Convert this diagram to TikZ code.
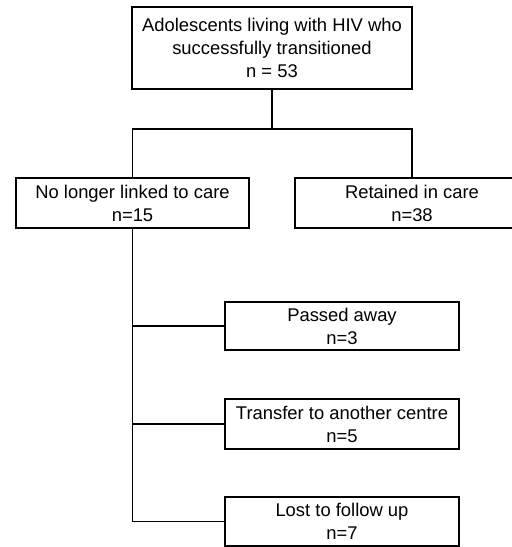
\documentclass[tikz,border=0pt]{standalone}
\usepackage{fontspec}
\setmainfont{Liberation Sans}
\usepackage{tikz}
\usetikzlibrary{positioning}
\tikzset{box/.style = {draw, line width = 1.8, align = center, inner sep = 0,
    font = \fontsize{18.4}{23}\selectfont}}
\tikzset{link/.style = {line width = 1.8}}

\begin{document}
\begin{tikzpicture}[x = 1pt, y = -1pt]
      \useasboundingbox (0, 0) rectangle (512, 547);
      \clip (0, 0) rectangle (512, 547);

      \node [box, minimum width = 280, minimum height = 82] (total) at (272, 48)
        {Adolescents living with HIV who\\successfully transitioned\\n = 53};
      \node [box, minimum width = 233, minimum height = 50] (notlinked) at (132.5, 203)
        {No longer linked to care\\n=15};
      \node [box, minimum width = 234, minimum height = 50] (retained) at (412, 203)
        {Retained in care\\n=38};

      \node [box, minimum width = 234, minimum height = 48] (died) at (342, 326)
        {Passed away\\n=3};
      \node [box, minimum width = 234, minimum height = 50] (transfer) at (342, 424)
        {Transfer to another centre\\n=5};
      \node [box, minimum width = 234, minimum height = 49] (lost) at (342, 521.5)
        {Lost to follow up\\n=7};

      \coordinate (split) at (272, 129);
      \draw [link] (total) -- (split);
      \draw [link] (notlinked.north) |- (split) -| (retained.north);

      \draw [link] (notlinked.south) |- (lost.west);
      \foreach \b in {died, transfer} {
        \draw [link] (notlinked.south |- \b.west) -- (\b.west);
      }
    \end{tikzpicture}
\end{document}
